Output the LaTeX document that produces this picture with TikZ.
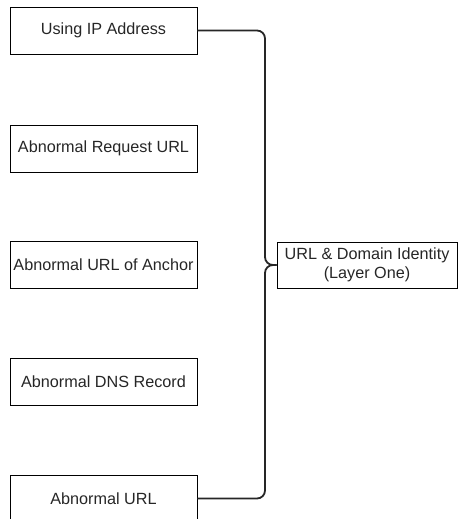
\documentclass[tikz,border=0pt]{standalone}
\usepackage{fontspec}
\setmainfont{Liberation Sans}
\begin{document}
\begin{tikzpicture}[x=1pt,y=-1pt,
  featbox/.style={draw=black, line width=0.9pt, minimum width=187pt, minimum height=47pt,
    inner sep=0pt, font=\fontsize{16.2}{19}\selectfont, text=black!85, anchor=center},
  layerbox/.style={draw=black, line width=0.9pt, minimum width=180pt, minimum height=46pt,
    inner sep=0pt, align=center, font=\fontsize{16.2}{18.5}\selectfont, text=black!85},
  bracket/.style={draw=black!85, line width=1.8pt, rounded corners=8pt}]
\useasboundingbox (0,0) rectangle (460,519);

\node[featbox] (ip)     at (103.5,30.5)  {Using IP Address};
\node[featbox] (req)    at (103.5,148.5) {Abnormal Request URL};
\node[featbox] (anchor) at (103.5,264.5) {Abnormal URL of Anchor};
\node[featbox] (dns)    at (103.5,381.5) {Abnormal DNS Record};
\node[featbox] (url)    at (103.5,498.5) {Abnormal URL};

\node[layerbox] (layer) at (367,265) {URL \& Domain Identity\\(Layer One)};

% bracket joining the first and last features to the layer
\coordinate (spine) at (265,265);
\draw[bracket] (ip.east) -| (spine) -- (layer.west);
\draw[bracket] (url.east) -| (spine) -- (layer.west);
\end{tikzpicture}
\end{document}
